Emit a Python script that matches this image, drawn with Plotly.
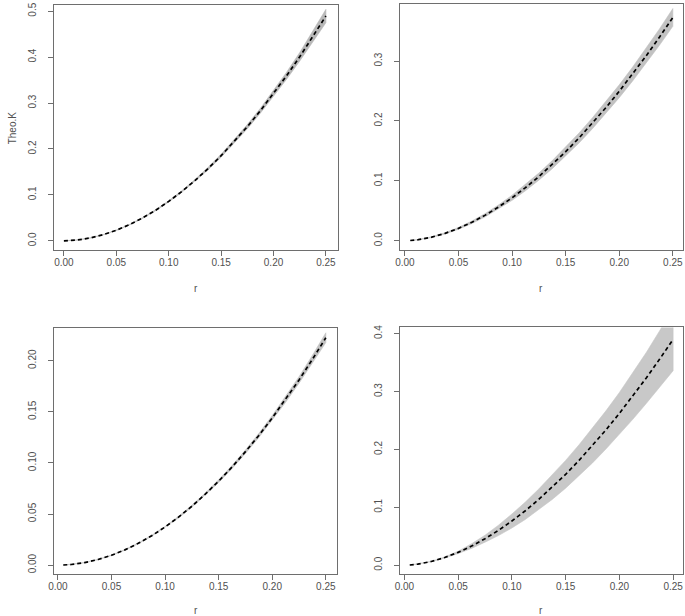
import plotly.graph_objects as go

# r grid (panel 1 starts at 0, the others at 0.005)
r_a = [0, 0.0125, 0.025, 0.0375, 0.05, 0.0625, 0.075, 0.0875, 0.1, 0.1125, 0.125,
       0.1375, 0.15, 0.1625, 0.175, 0.1875, 0.2, 0.2125, 0.225, 0.2375, 0.25]
r_b = [0.005] + r_a[1:]

# theoretical K
theo_1 = [0, 0.0017, 0.0062, 0.0133, 0.0230, 0.0351, 0.0497, 0.0666, 0.0859, 0.1074, 0.1312,
          0.1572, 0.1854, 0.2159, 0.2486, 0.2834, 0.3204, 0.3596, 0.4007, 0.4440, 0.4895]
theo_2 = [0.0003, 0.0017, 0.0059, 0.0123, 0.0206, 0.0308, 0.0427, 0.0564, 0.0717, 0.0886, 0.1071,
          0.1271, 0.1487, 0.1717, 0.1963, 0.2222, 0.2497, 0.2785, 0.3086, 0.3401, 0.3730]
theo_3 = [0.0001, 0.0006, 0.0025, 0.0055, 0.0096, 0.0149, 0.0213, 0.0287, 0.0373, 0.0469, 0.0576,
          0.0694, 0.0822, 0.0960, 0.1110, 0.1269, 0.1440, 0.1621, 0.1812, 0.2014, 0.2225]
theo_4 = [0.0004, 0.0019, 0.0065, 0.0133, 0.0222, 0.0331, 0.0458, 0.0602, 0.0764, 0.0941, 0.1136,
          0.1346, 0.1571, 0.1811, 0.2067, 0.2337, 0.2623, 0.2921, 0.3234, 0.3561, 0.3900]

# half width of the grey simulation envelope
half_1 = [0, 0, 0.0001, 0.0002, 0.0004, 0.0006, 0.0008, 0.0011, 0.0014, 0.0018, 0.0022,
          0.0027, 0.0032, 0.0038, 0.0045, 0.0053, 0.0063, 0.0076, 0.0093, 0.0115, 0.0145]
half_2 = [0, 0.0003, 0.0006, 0.0010, 0.0015, 0.0021, 0.0028, 0.0035, 0.0043, 0.0051, 0.0059,
          0.0067, 0.0075, 0.0083, 0.0091, 0.0099, 0.0107, 0.0116, 0.0125, 0.0136, 0.0148]
half_3 = [0, 0, 0.0001, 0.0001, 0.0002, 0.0003, 0.0004, 0.0005, 0.0006, 0.0008, 0.0009,
          0.0011, 0.0013, 0.0015, 0.0017, 0.0020, 0.0023, 0.0027, 0.0032, 0.0039, 0.0048]
half_4 = [0, 0.0001, 0.0003, 0.0010, 0.0020, 0.0040, 0.0060, 0.0090, 0.0120, 0.0150, 0.0180,
          0.0210, 0.0240, 0.0270, 0.0300, 0.0330, 0.0360, 0.0400, 0.0440, 0.0490, 0.0540]

x_ticks = [0, 0.05, 0.10, 0.15, 0.20, 0.25]
y_ticks_1 = [0, 0.1, 0.2, 0.3, 0.4, 0.5]
y_ticks_2 = [0, 0.1, 0.2, 0.3]
y_ticks_3 = [0, 0.05, 0.10, 0.15, 0.20]
y_ticks_4 = [0, 0.1, 0.2, 0.3, 0.4]

W, H = 685, 616
FRAME = "#6e6e6e"
TXT = "#505050"
FONT = "Liberation Sans, Arial, sans-serif"

panels = [
    # r, theo, half, band colour, x px box, y px box, x range, y range, y ticks, y fmt
    (r_a, theo_1, half_1, "#b8b8b8", (49, 335), (2, 248), [-0.0098, 0.2611], [-0.0195, 0.5135], y_ticks_1, "{:.1f}"),
    (r_b, theo_2, half_2, "#c2c2c2", (398, 683), (1, 248), [-0.0045, 0.2595], [-0.0152, 0.3955], y_ticks_2, "{:.1f}"),
    (r_b, theo_3, half_3, "#c2c2c2", (49, 334), (327, 574), [-0.0040, 0.2600], [-0.0089, 0.2316], y_ticks_3, "{:.2f}"),
    (r_b, theo_4, half_4, "#c8c8c8", (398, 683), (326, 574), [-0.0040, 0.2592], [-0.0155, 0.4108], y_ticks_4, "{:.1f}"),
]

fig = go.Figure()
layout = {}
for i, (r, theo, half, band, xb, yb, xr, yr, yt, yfmt) in enumerate(panels, start=1):
    xa = "x" if i == 1 else f"x{i}"
    ya = "y" if i == 1 else f"y{i}"
    hi = [t + h for t, h in zip(theo, half)]
    lo = [t - h for t, h in zip(theo, half)]
    fig.add_trace(go.Scatter(x=r + r[::-1], y=hi + lo[::-1], fill="toself",
                             fillcolor=band, line=dict(width=0.6, color=band),
                             mode="lines", xaxis=xa, yaxis=ya, hoverinfo="skip"))
    fig.add_trace(go.Scatter(x=r, y=theo, mode="lines",
                             line=dict(color="black", width=1.7, dash="4px,3px"),
                             xaxis=xa, yaxis=ya))
    common = dict(showline=True, mirror=True, linecolor=FRAME, linewidth=1,
                  ticks="outside", ticklen=5, tickcolor=FRAME, tickwidth=1,
                  showgrid=False, zeroline=False, tickfont=dict(size=10, color=TXT, family=FONT))
    layout["xaxis" if i == 1 else f"xaxis{i}"] = dict(
        common, domain=[xb[0] / W, xb[1] / W], range=xr, anchor=ya,
        tickvals=x_ticks, ticktext=[f"{v:.2f}" for v in x_ticks], ticklabelstandoff=-2)
    layout["yaxis" if i == 1 else f"yaxis{i}"] = dict(
        common, domain=[1 - yb[1] / H, 1 - yb[0] / H], range=yr, anchor=xa,
        tickvals=yt, ticktext=[yfmt.format(v) for v in yt], tickangle=-90,
        ticklabelstandoff=8)

annots = [
    dict(text="r", x=192 / W, y=1 - 287 / H, showarrow=False),
    dict(text="r", x=540 / W, y=1 - 287 / H, showarrow=False),
    dict(text="r", x=192 / W, y=1 - 610 / H, showarrow=False),
    dict(text="r", x=540 / W, y=1 - 610 / H, showarrow=False),
    dict(text="Theo.K", x=7 / W, y=1 - 125 / H, showarrow=False, textangle=-90),
]
for a in annots:
    a.update(xref="paper", yref="paper", xanchor="center", yanchor="middle",
             font=dict(size=10, color=TXT, family=FONT))

fig.update_layout(**layout)
fig.update_layout(width=W, height=H, margin=dict(l=0, r=0, t=0, b=0),
                  plot_bgcolor="white", paper_bgcolor="white",
                  showlegend=False, annotations=annots)
# drop the browser's default body margin so the figure sits at the window corner
fig.write_html("out.html", config={"displayModeBar": False},
               post_script="document.body.style.margin='0px';")
